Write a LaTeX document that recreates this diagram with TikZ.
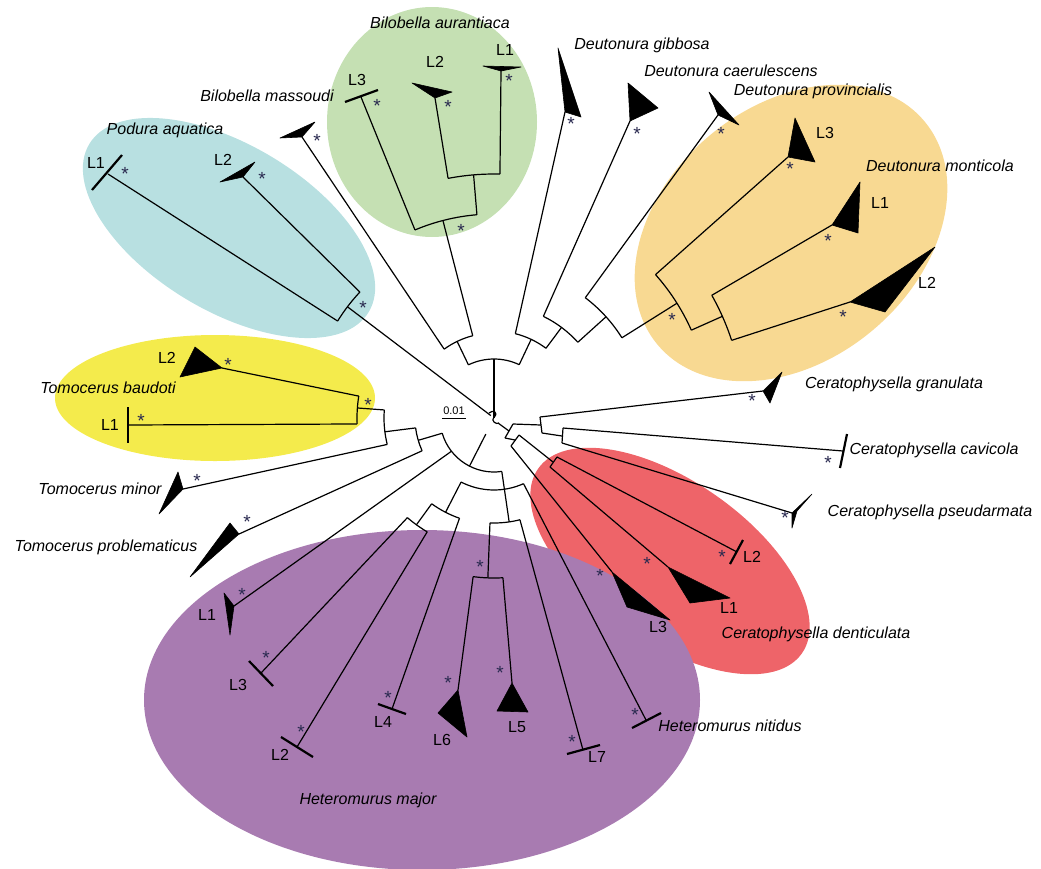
\documentclass[tikz,border=0pt]{standalone}
\usepackage{fontspec}
\setmainfont{Liberation Sans}
\usetikzlibrary{calc}
\definecolor{cblue}{HTML}{B8E0E1}
\definecolor{cgreen}{HTML}{C5E0B3}
\definecolor{cyellow}{HTML}{F4EB4C}
\definecolor{corange}{HTML}{F8D992}
\definecolor{cred}{HTML}{EE6469}
\definecolor{cpurple}{HTML}{A87BB1}
\definecolor{cast}{HTML}{2A2A50}
\begin{document}
\begin{tikzpicture}[x=1pt,y=-1pt,
  br/.style={line width=1.2pt,line join=round},
  tri/.style={fill=black,draw=black,line width=0.6pt,line join=round},
  tipbar/.style={line width=2.2pt},
  sp/.style={font=\itshape\fontsize{16}{18}\selectfont,inner sep=0pt,text height=11.5pt,text depth=3pt},
  lab/.style={font=\fontsize{16}{18}\selectfont,inner sep=0pt,text height=11.5pt,text depth=0pt},
  ast/.style={font=\fontsize{19}{20}\selectfont,text=cast,inner sep=0pt,yshift=-4pt}]
\path[use as bounding box] (0,0) rectangle (1041,868);
\clip (0,0) rectangle (1041,868);
% ---------- coloured clades
\fill[cblue,rotate around={-31:(229,228)}] (229,228) ellipse[x radius=163,y radius=83];
\fill[cgreen] (432,122) ellipse[x radius=105,y radius=115];
\fill[cyellow] (215,398) ellipse[x radius=160,y radius=63];
\fill[corange,rotate around={40:(791,233)}] (791,233) ellipse[x radius=174,y radius=127];
\fill[cred,rotate around={-35:(670,561)}] (670,561) ellipse[x radius=161,y radius=80];
\fill[cpurple] (422,700) ellipse[x radius=278,y radius=170];
% ---------- root
\coordinate (R) at (494,418);
\coordinate (nT) at ($(R)+(-90:59)$);
\draw[br] (R) -- (nT);
\draw[br] (489,413) .. controls (493,409) and (499,413) .. (494,417) .. controls (490,421) and (497,425) .. (499,423);
% ---------- top part
\coordinate (nTa) at ($(R)+(-115.7:59)$);
\coordinate (nTb) at ($(R)+(-64.7:59)$);
\draw[br] (nTa) arc[start angle=-115.7,end angle=-64.7,radius=59];
\coordinate (nL) at ($(R)+(-115.7:85)$);
\draw[br] (nTa) -- (nL);
\coordinate (nLa) at ($(R)+(-125.9:85)$);
\coordinate (nLb) at ($(R)+(-104.5:85)$);
\draw[br] (nLa) arc[start angle=-125.9,end angle=-104.5,radius=85];
\coordinate (tBm) at (302,137);
\draw[br] (nLa) -- (tBm);
\coordinate (nBa) at ($(R)+(-104.5:204)$);
\draw[br] (nLb) -- (nBa);
\coordinate (nBa1) at ($(R)+(-112.8:204)$);
\coordinate (nBa2) at ($(R)+(-94.8:204)$);
\draw[br] (nBa1) arc[start angle=-112.8,end angle=-94.8,radius=204];
\coordinate (tBa3) at (361,97);
\draw[br] (nBa1) -- (tBa3);
\coordinate (nB12) at ($(R)+(-94.8:244)$);
\draw[br] (nBa2) -- (nB12);
\coordinate (nB12a) at ($(R)+(-100.85:244)$);
\coordinate (nB12b) at ($(R)+(-88.6:244)$);
\draw[br] (nB12a) arc[start angle=-100.85,end angle=-88.6,radius=244];
\coordinate (tBa2) at (435,98);
\coordinate (tBa1) at (501,71);
\draw[br] (nB12a) -- (tBa2);
\draw[br] (nB12b) -- (tBa1);
% Deutonura
\coordinate (nR) at ($(R)+(-64.7:87)$);
\draw[br] (nTb) -- (nR);
\coordinate (nRa) at ($(R)+(-75.8:87)$);
\coordinate (nRb) at ($(R)+(-53.3:87)$);
\draw[br] (nRa) arc[start angle=-75.8,end angle=-53.3,radius=87];
\coordinate (tDg) at (565,112);
\draw[br] (nRa) -- (tDg);
\coordinate (nR2) at ($(R)+(-53.3:113)$);
\draw[br] (nRb) -- (nR2);
\coordinate (nR2a) at ($(R)+(-64.1:113)$);
\coordinate (nR2b) at ($(R)+(-42.1:113)$);
\draw[br] (nR2a) arc[start angle=-64.1,end angle=-42.1,radius=113];
\coordinate (tDc) at (630,121);
\draw[br] (nR2a) -- (tDc);
\coordinate (nR3) at ($(R)+(-42.1:151)$);
\draw[br] (nR2b) -- (nR3);
\coordinate (nR3a) at ($(R)+(-52.8:151)$);
\coordinate (nR3b) at ($(R)+(-32.1:151)$);
\draw[br] (nR3a) arc[start angle=-52.8,end angle=-32.1,radius=151];
\coordinate (tDp) at (718,115);
\draw[br] (nR3a) -- (tDp);
\coordinate (nDm) at ($(R)+(-32.1:216)$);
\draw[br] (nR3b) -- (nDm);
\coordinate (nDma) at ($(R)+(-41.6:216)$);
\coordinate (nDmb) at ($(R)+(-24:216)$);
\draw[br] (nDma) arc[start angle=-41.6,end angle=-24,radius=216];
\coordinate (tDm3) at (788,157);
\draw[br] (nDma) -- (tDm3);
\coordinate (nDm12) at ($(R)+(-24:250)$);
\draw[br] (nDmb) -- (nDm12);
\coordinate (nDm12a) at ($(R)+(-29.4:250)$);
\coordinate (nDm12b) at ($(R)+(-18.1:250)$);
\draw[br] (nDm12a) arc[start angle=-29.4,end angle=-18.1,radius=250];
\coordinate (tDm1) at (832,225);
\coordinate (tDm2) at (850,302);
\draw[br] (nDm12a) -- (tDm1);
\draw[br] (nDm12b) -- (tDm2);
% Podura
\coordinate (nPs) at ($(R)+(-142.8:4)$);
\coordinate (nP) at ($(R)+(-142.8:184)$);
\draw[br] (nPs) -- (nP);
\coordinate (nPa) at ($(R)+(-136.8:184)$);
\coordinate (nPb) at ($(R)+(-148.2:184)$);
\draw[br] (nPa) arc[start angle=-136.8,end angle=-148.2,radius=184];
\coordinate (tP2) at (243,177);
\coordinate (tP1) at (108,174);
\draw[br] (nPa) -- (tP2);
\draw[br] (nPb) -- (tP1);
% ---------- lower left
\coordinate (nAs) at ($(R)+(117:18)$);
\coordinate (nA) at ($(R)+(117:54)$);
\draw[br] (nAs) -- (nA);
\coordinate (nAa) at ($(R)+(163.6:54)$);
\coordinate (nAb) at ($(R)+(142:54)$);
\coordinate (nAc) at ($(R)+(81.7:54)$);
\draw[br] (nAa) arc[start angle=163.6,end angle=81.7,radius=54];
\coordinate (nB) at ($(R)+(163.6:79)$);
\draw[br] (nAa) -- (nB);
\coordinate (nBx1) at ($(R)+(172.8:79)$);
\coordinate (nBx2) at ($(R)+(155.5:79)$);
\draw[br] (nBx1) arc[start angle=172.8,end angle=155.5,radius=79];
\coordinate (nTo) at ($(R)+(172.8:110)$);
\draw[br] (nBx1) -- (nTo);
\coordinate (nTo1) at ($(R)+(184.2:110)$);
\coordinate (nTo2) at ($(R)+(166.1:110)$);
\draw[br] (nTo1) arc[start angle=184.2,end angle=166.1,radius=110];
\coordinate (nTbd) at ($(R)+(184.2:137)$);
\draw[br] (nTo1) -- (nTbd);
\coordinate (nTb2) at ($(R)+(189.2:137)$);
\coordinate (nTb1) at ($(R)+(177.5:137)$);
\draw[br] (nTb2) arc[start angle=189.2,end angle=177.5,radius=137];
\coordinate (tTb2) at (222,368);
\coordinate (tTb1) at (128,425);
\draw[br] (nTb2) -- (tTb2);
\draw[br] (nTb1) -- (tTb1);
\coordinate (tTm) at (183,489);
\draw[br] (nTo2) -- (tTm);
\coordinate (tTp) at (239,534);
\draw[br] (nBx2) -- (tTp);
\coordinate (tH1) at (234,606);
\draw[br] (nAb) -- (tH1);
% Heteromurus
\coordinate (nG) at ($(R)+(81.7:105)$);
\draw[br] (nAc) -- (nG);
\coordinate (nD1) at ($(R)+(117.2:72)$);
\coordinate (nD2) at ($(R)+(65.8:72)$);
\draw[br] (nD1) arc[start angle=117.2,end angle=65.8,radius=72];
\coordinate (nF) at ($(R)+(117.2:106)$);
\draw[br] (nD1) -- (nF);
\coordinate (nF1) at ($(R)+(126:106)$);
\coordinate (nF2) at ($(R)+(109:106)$);
\draw[br] (nF1) arc[start angle=126,end angle=109,radius=106];
\coordinate (nE) at ($(R)+(126:132)$);
\draw[br] (nF1) -- (nE);
\coordinate (nE1) at ($(R)+(131:132)$);
\coordinate (nE2) at ($(R)+(120.4:132)$);
\draw[br] (nE1) arc[start angle=131,end angle=120.4,radius=132];
\coordinate (tH3) at (261,673);
\coordinate (tH2) at (297,747);
\draw[br] (nE1) -- (tH3);
\draw[br] (nE2) -- (tH2);
\coordinate (tH4) at (392,709);
\draw[br] (nF2) -- (tH4);
\coordinate (tHn) at (646,720);
\draw[br] (nD2) -- (tHn);
\coordinate (nG1) at ($(R)+(92.2:105)$);
\coordinate (nG2) at ($(R)+(75.7:105)$);
\draw[br] (nG1) arc[start angle=92.2,end angle=75.7,radius=105];
\coordinate (nH) at ($(R)+(92.2:160)$);
\draw[br] (nG1) -- (nH);
\coordinate (nH1) at ($(R)+(97.5:160)$);
\coordinate (nH2) at ($(R)+(86.8:160)$);
\draw[br] (nH1) arc[start angle=97.5,end angle=86.8,radius=160];
\coordinate (tH6) at (458,690);
\coordinate (tH5) at (512,683);
\draw[br] (nH1) -- (tH6);
\draw[br] (nH2) -- (tH5);
\coordinate (tH7) at (583,750);
\draw[br] (nG2) -- (tH7);
% ---------- right side (Ceratophysella)
\coordinate (q0) at (498,423);
\coordinate (q1) at (509,431);
\draw[br] (q0) -- (q1);
\coordinate (q1a) at (513,424);
\coordinate (q1b) at (505,438);
\draw[br] (q1a) -- (q1b);
\coordinate (cg) at (541,425);
\draw[br] (q1a) -- (cg);
\coordinate (cg1) at (540,417);
\coordinate (cg2) at (542,433);
\draw[br] (cg1) -- (cg2);
\coordinate (tCg) at (763,391);
\draw[br] (cg1) -- (tCg);
\coordinate (cc) at (562,436);
\draw[br] (cg2) -- (cc);
\coordinate (cc1) at (563,428);
\coordinate (cc2) at (562,443);
\draw[br] (cc1) -- (cc2);
\coordinate (tCc) at (843,451);
\coordinate (tCp) at (792,513);
\draw[br] (cc1) -- (tCc);
\draw[br] (cc2) -- (tCp);
\coordinate (qr) at (515,440);
\draw[br] (q1b) -- (qr);
\coordinate (qr1) at (511,446);
\coordinate (qr2) at (519,435);
\draw[br] (qr1) -- (qr2);
\coordinate (tR3) at (612,572);
\draw[br] (qr1) -- (tR3);
\coordinate (qrr) at (553,462);
\draw[br] (qr2) -- (qrr);
\coordinate (qrr1) at (557,457);
\coordinate (qrr2) at (550,467);
\draw[br] (qrr1) -- (qrr2);
\coordinate (tR2) at (737,552);
\coordinate (tR1) at (668,567);
\draw[br] (qrr1) -- (tR2);
\draw[br] (qrr2) -- (tR1);
% ---------- tips: triangles
\draw[tri] (280,138) -- (315,122) -- (tBm) -- cycle;
\draw[tri] (220,182) -- (255,162) -- (tP2) -- cycle;
\draw[tri] (412,83) -- (452,92) -- (tBa2) -- cycle;
\draw[tri] (483,66) -- (521,67) -- (tBa1) -- cycle;
\draw[tri] (558,48) -- (581,117) -- (tDg) -- cycle;
\draw[tri] (628,83) -- (658,108) -- (tDc) -- cycle;
\draw[tri] (709,92) -- (739,125) -- (tDp) -- cycle;
\draw[tri] (795,118) -- (815,162) -- (tDm3) -- cycle;
\draw[tri] (860,182) -- (858,233) -- (tDm1) -- cycle;
\draw[tri] (935,247) -- (885,312) -- (tDm2) -- cycle;
\draw[tri] (782,372) -- (770,403) -- (tCg) -- cycle;
\draw[tri] (812,494) -- (797,511) -- (792,528) -- (tCp) -- cycle;
\draw[tri] (180,377) -- (195,347) -- (tTb2) -- cycle;
\draw[tri] (178,472) -- (159,514) -- (tTm) -- cycle;
\draw[tri] (230,523) -- (190,577) -- (tTp) -- cycle;
\draw[tri] (224,593) -- (230,635) -- (tH1) -- cycle;
\draw[tri] (438,713) -- (467,737) -- (tH6) -- cycle;
\draw[tri] (497,711) -- (528,712) -- (tH5) -- cycle;
\draw[tri] (690,603) -- (730,598) -- (tR1) -- cycle;
\draw[tri] (627,607) -- (670,620) -- (tR3) -- cycle;
% ---------- tips: bars
\draw[tipbar] (92,190) -- (122,155);
\draw[tipbar] (345,102) -- (378,90);
\draw[tipbar] (128,407) -- (128,443);
\draw[tipbar] (249,661) -- (273,686);
\draw[tipbar] (281,737) -- (313,757);
\draw[tipbar] (378,704) -- (406,714);
\draw[tipbar] (567,754) -- (600,745);
\draw[tipbar] (632,728) -- (661,713);
\draw[tipbar] (847,434) -- (840,468);
\draw[tipbar] (743,540) -- (730,564);
% ---------- asterisks
\foreach \p in {(317,137),(461,227),(377,102),(448,103),(509,77),
  (363,304),(125,170),(262,175),(228,361),(141,417),(368,401),
  (197,477),(247,518),(571,120),(637,130),(721,130),(672,316),
  (790,165),(828,237),(843,313),(752,397),(828,459),(785,514),
  (722,553),(647,560),(600,572),(242,591),(266,654),(301,728),
  (388,694),(448,679),(500,669),(572,738),(480,563),(635,711)}
  \node[ast] at \p {*};
% ---------- scale
\node[font=\fontsize{11}{12}\selectfont,inner sep=0pt] (sc) at (454,411) {0.01};
\draw[line width=0.8pt] (442,418) -- (466,418);
% ---------- species labels
\node[sp] (lBa) at (440,24) {Bilobella aurantiaca};
\node[sp] (lBm) at (267,97) {Bilobella massoudi};
\node[sp] (lPa) at (165,130) {Podura aquatica};
\node[sp] (lDg) at (642,45) {Deutonura gibbosa};
\node[sp] (lDc) at (731,72) {Deutonura caerulescens};
\node[sp] (lDp) at (813,91) {Deutonura provincialis};
\node[sp] (lDm) at (940,167) {Deutonura monticola};
\node[sp] (lTb) at (108,389) {Tomocerus baudoti};
\node[sp] (lTm) at (100,490) {Tomocerus minor};
\node[sp] (lTp) at (106,547) {Tomocerus problematicus};
\node[sp] (lCg) at (894,384) {Ceratophysella granulata};
\node[sp] (lCc) at (934,450) {Ceratophysella cavicola};
\node[sp] (lCp) at (930,512) {Ceratophysella pseudarmata};
\node[sp] (lCd) at (816,634) {Ceratophysella denticulata};
\node[sp] (lHn) at (730,727) {Heteromurus nitidus};
\node[sp] (lHm) at (368,800) {Heteromurus major};
% ---------- lineage labels
\node[lab] at (96,163) {L1};
\node[lab] at (223,160) {L2};
\node[lab] at (357,80) {L3};
\node[lab] at (435,62) {L2};
\node[lab] at (505,50) {L1};
\node[lab] at (825,133) {L3};
\node[lab] at (880,203) {L1};
\node[lab] at (927,283) {L2};
\node[lab] at (167,358) {L2};
\node[lab] at (110,425) {L1};
\node[lab] at (207,615) {L1};
\node[lab] at (238,685) {L3};
\node[lab] at (280,755) {L2};
\node[lab] at (383,722) {L4};
\node[lab] at (442,740) {L6};
\node[lab] at (517,727) {L5};
\node[lab] at (597,757) {L7};
\node[lab] at (752,557) {L2};
\node[lab] at (729,608) {L1};
\node[lab] at (658,627) {L3};
\end{tikzpicture}
\end{document}
